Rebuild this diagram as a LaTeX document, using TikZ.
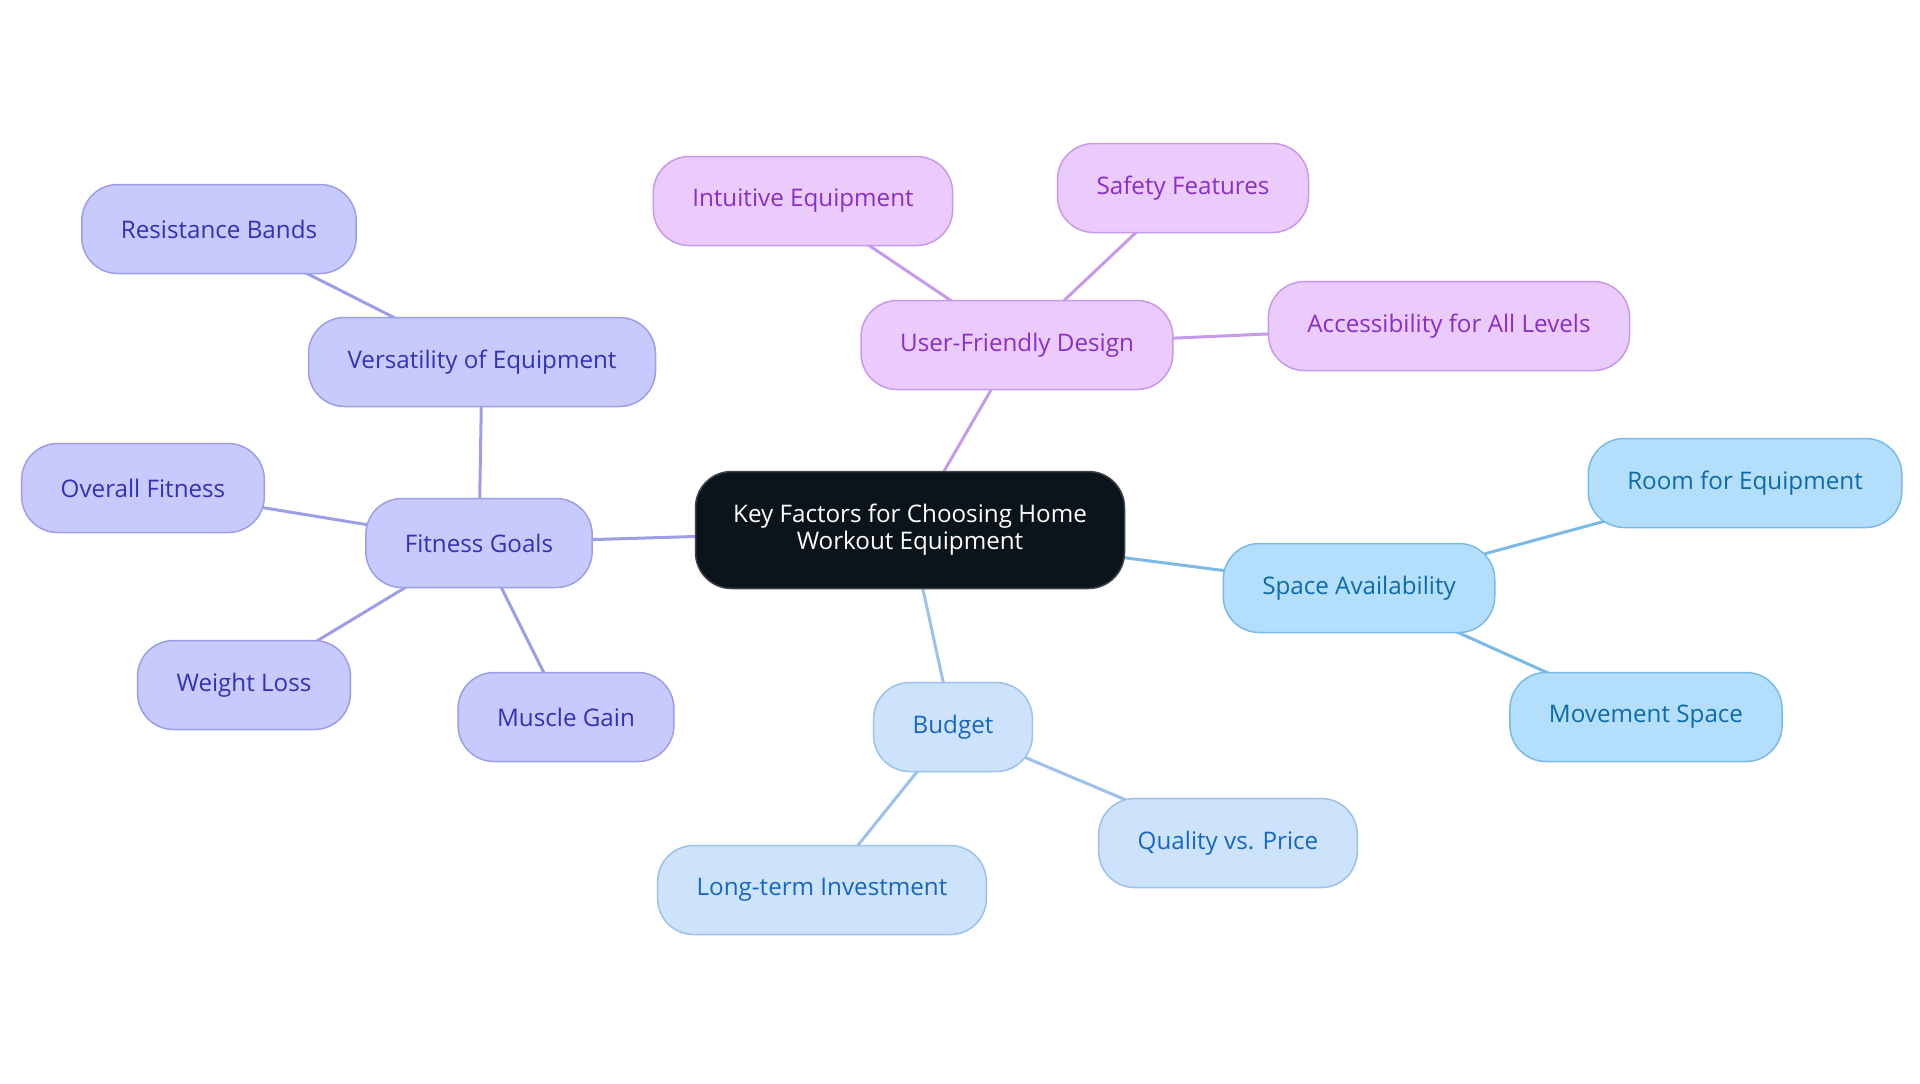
\documentclass[tikz,border=0pt]{standalone}
\usepackage{fontspec}
\setmainfont{Open Sans}
\usepackage{tikz}
\usetikzlibrary{positioning,calc}

\definecolor{ctrfill}{HTML}{0C141B}
\definecolor{fgfill}{HTML}{C8C9FC}
\definecolor{fgline}{HTML}{9C9EE6}
\definecolor{fgtext}{HTML}{3232B4}
\definecolor{udfill}{HTML}{EACBFC}
\definecolor{udline}{HTML}{C799EA}
\definecolor{udtext}{HTML}{8A2EC4}
\definecolor{safill}{HTML}{B3DEFC}
\definecolor{saline}{HTML}{7BB9E6}
\definecolor{satext}{HTML}{0D6BA8}
\definecolor{bufill}{HTML}{CDE3FC}
\definecolor{buline}{HTML}{9CC1EA}
\definecolor{butext}{HTML}{1866C0}

\pgfdeclarelayer{bg}
\pgfsetlayers{bg,main}

\begin{document}
\begin{tikzpicture}[x=0.5pt,y=-0.5pt,
			elt/.style={rectangle,rounded corners=18pt,line width=0.75pt,inner xsep=19.5pt,inner ysep=0pt,minimum height=44.5pt,font=\fontsize{12.1pt}{13.5pt}\selectfont},
			ctr/.style={elt,fill=ctrfill,draw=ctrfill!80!white,text=white,minimum height=58.5pt,minimum width=214.5pt,align=center,inner xsep=10pt},
			fg/.style={elt,fill=fgfill,draw=fgline,text=fgtext},
			ud/.style={elt,fill=udfill,draw=udline,text=udtext},
			sa/.style={elt,fill=safill,draw=saline,text=satext},
			bu/.style={elt,fill=bufill,draw=buline,text=butext},
			lnk/.style={line width=1.5pt}]
		\useasboundingbox (0,0) rectangle (1920,1083);
		\path 	(910,530) 	node 	(c0) [ctr] {Key Factors for Choosing Home\\Workout Equipment}
		        (479,543) 	node 	(f0) [fg] {Fitness Goals}
		        (482,362) 	node 	(f1) [fg] {Versatility of Equipment}
		        (219,229) 	node 	(f2) [fg] {Resistance Bands}
		        (143,488) 	node 	(f3) [fg] {Overall Fitness}
		        (244,685) 	node 	(f4) [fg] {Weight Loss}
		        (566,717) 	node 	(f5) [fg] {Muscle Gain}
		        (1017,345) 	node 	(u0) [ud] {User-Friendly Design}
		        (803,201) 	node 	(u1) [ud] {Intuitive Equipment}
		        (1183,188) 	node 	(u2) [ud] {Safety Features}
		        (1449,326) 	node 	(u3) [ud] {Accessibility for All Levels}
		        (1359,588) 	node 	(s0) [sa] {Space Availability}
		        (1745,483) 	node 	(s1) [sa] {Room for Equipment}
		        (1646,717) 	node 	(s2) [sa] {Movement Space}
		        (953,727) 	node 	(b0) [bu] {Budget}
		        (1228,843) 	node 	(b1) [bu] {Quality vs. Price}
		        (822,890) 	node 	(b2) [bu] {Long-term Investment};
		\begin{pgfonlayer}{bg}
		\draw [lnk,fgline] (c0.center) -- (f0.center) -- (f1.center) -- (f2.center);
		\draw [lnk,fgline] (f3.center) -- (f0.center) -- (f4.center) (f0.center) -- (f5.center);
		\draw [lnk,udline] (c0.center) -- (u0.center) -- (u1.center) (u0.center) -- (u2.center) (u0.center) -- (u3.center);
		\draw [lnk,saline] (c0.center) -- (s0.center) -- (s1.center) (s0.center) -- (s2.center);
		\draw [lnk,buline] (c0.center) -- (b0.center) -- (b1.center) (b0.center) -- (b2.center);
		\end{pgfonlayer}
	\end{tikzpicture}
\end{document}
